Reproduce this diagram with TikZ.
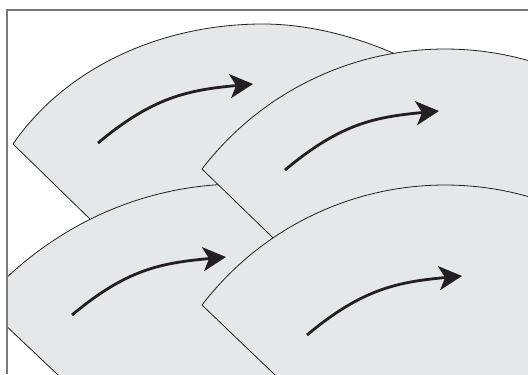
\documentclass[tikz,border=0pt]{standalone}
\usetikzlibrary{arrows.meta}
\definecolor{sectorfill}{RGB}{230,231,232}
\definecolor{inkblack}{RGB}{35,31,32}
\definecolor{framegray}{RGB}{120,120,120}
\begin{document}
\begin{tikzpicture}[x=0.5pt, y=-0.5pt,
  sector/.style={fill=sectorfill, draw=inkblack, line width=0.4pt, line join=miter},
  flowarrow/.style={draw=inkblack, line width=1.4pt, -{Stealth[length=11.5pt, width=12pt, inset=3pt]}},
  framelines/.style={draw=framegray, line width=0.6pt}]
\useasboundingbox (0,0) rectangle (528,374);
% arrow end points
\coordinate (a1s) at (98,143);  \coordinate (a1e) at (253,84);
\coordinate (a2s) at (285,170); \coordinate (a2e) at (439,111);
\coordinate (a3s) at (72,315);  \coordinate (a3e) at (226,257);
\coordinate (a4s) at (307,335); \coordinate (a4e) at (462,276);
\begin{scope}
\clip (7,10) rectangle (528,374);
% sector 1 (upper left)
\path[sector] (13,144) .. controls (67,66) and (163,24) .. (263,24)
  .. controls (323,24) and (390,46) .. (440,78) -- (440,420) -- (296,420) -- cycle;
% sector 3 (lower left)
\path[sector] (-18,303) .. controls (48,228) and (140,184) .. (240,184)
  .. controls (280,184) and (320,190) .. (350,200) -- (350,420) -- (105.5,420) -- cycle;
% sector 2 (upper right)
\path[sector] plot[domain=142.57:60, samples=80] ({445+306*cos(\x)},{355-306*sin(\x)}) -- (600,420) -- (461,420) -- cycle;
% sector 4 (lower right)
\path[sector] plot[domain=142.57:60, samples=80] ({445+306*cos(\x)},{491-306*sin(\x)}) -- (600,420) -- (322,420) -- cycle;
% arrows
\draw[flowarrow] (a1s) .. controls +(55,-46) and +(-65,6) .. (a1e);
\draw[flowarrow] (a2s) .. controls +(55,-46) and +(-65,6) .. (a2e);
\draw[flowarrow] (a3s) .. controls +(55,-46) and +(-65,6) .. (a3e);
\draw[flowarrow] (a4s) .. controls +(55,-46) and +(-65,6) .. (a4e);
\end{scope}
\draw[framelines] (7,374) -- (7,10) -- (528,10);
\end{tikzpicture}
\end{document}
